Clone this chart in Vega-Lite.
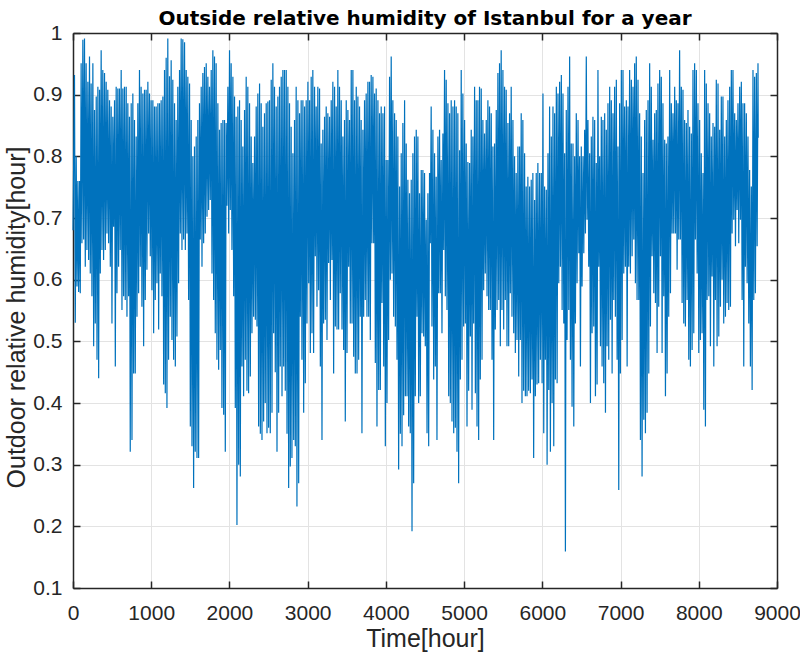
{
"$schema": "https://vega.github.io/schema/vega-lite/v6.json",
"width": 704, "height": 555,
"autosize": {"type": "none"},
"padding": {"left": 73, "top": 33, "right": 23, "bottom": 66},
"background": "white",
"title": {"text": "Outside relative humidity of Istanbul for a year", "font": "DejaVu Sans", "fontSize": 20, "fontWeight": "bold", "color": "#000000", "anchor": "middle", "baseline": "alphabetic", "offset": 10, "dy": 33},
"config": {"view": {"stroke": null}},
"data": {"values": [
{"t":0,"h":0.68},
{"t":19,"h":0.932},{"t":29,"h":0.53},{"t":41,"h":0.80},{"t":51,"h":0.589},{"t":62,"h":0.76},{"t":72,"h":0.58},{"t":83,"h":0.76},{"t":93,"h":0.578},
{"t":104,"h":0.951},{"t":114,"h":0.659},{"t":126,"h":0.989},{"t":136,"h":0.665},{"t":147,"h":0.991},{"t":157,"h":0.621},{"t":168,"h":0.951},{"t":178,"h":0.648},
{"t":190,"h":0.921},{"t":200,"h":0.632},{"t":211,"h":0.962},{"t":221,"h":0.61},{"t":232,"h":0.918},{"t":242,"h":0.573},{"t":254,"h":0.951},{"t":264,"h":0.492},
{"t":275,"h":0.875},{"t":285,"h":0.529},{"t":297,"h":0.897},{"t":307,"h":0.47},{"t":318,"h":0.913},{"t":328,"h":0.44},{"t":339,"h":0.908},{"t":349,"h":0.61},
{"t":360,"h":0.972},{"t":370,"h":0.648},{"t":381,"h":0.940},{"t":391,"h":0.632},{"t":403,"h":0.935},{"t":413,"h":0.648},{"t":424,"h":0.921},{"t":434,"h":0.675},
{"t":445,"h":0.908},{"t":455,"h":0.659},{"t":467,"h":0.891},{"t":477,"h":0.621},{"t":488,"h":0.881},{"t":498,"h":0.529},{"t":509,"h":0.864},{"t":519,"h":0.686},
{"t":531,"h":0.891},{"t":541,"h":0.459},{"t":552,"h":0.913},{"t":562,"h":0.578},{"t":573,"h":0.910},{"t":583,"h":0.621},{"t":594,"h":0.910},{"t":604,"h":0.648},
{"t":616,"h":0.940},{"t":626,"h":0.551},{"t":637,"h":0.910},{"t":647,"h":0.573},{"t":658,"h":0.913},{"t":668,"h":0.567},{"t":680,"h":0.913},{"t":690,"h":0.54},
{"t":701,"h":0.886},{"t":711,"h":0.573},{"t":722,"h":0.864},{"t":732,"h":0.321},{"t":744,"h":0.886},{"t":754,"h":0.34},{"t":765,"h":0.902},{"t":775,"h":0.448},
{"t":786,"h":0.859},{"t":796,"h":0.448},{"t":808,"h":0.832},{"t":818,"h":0.54},{"t":829,"h":0.886},{"t":839,"h":0.578},{"t":850,"h":0.940},{"t":860,"h":0.621},
{"t":871,"h":0.913},{"t":881,"h":0.556},{"t":893,"h":0.902},{"t":903,"h":0.492},{"t":914,"h":0.908},{"t":924,"h":0.567},{"t":935,"h":0.908},{"t":945,"h":0.616},
{"t":957,"h":0.921},{"t":967,"h":0.675},{"t":978,"h":0.902},{"t":988,"h":0.638},{"t":999,"h":0.891},{"t":1009,"h":0.583},{"t":1021,"h":0.891},{"t":1031,"h":0.513},
{"t":1042,"h":0.881},{"t":1052,"h":0.567},{"t":1063,"h":0.881},{"t":1073,"h":0.594},{"t":1085,"h":0.886},{"t":1095,"h":0.519},{"t":1106,"h":0.886},{"t":1116,"h":0.61},
{"t":1127,"h":0.891},{"t":1137,"h":0.573},{"t":1149,"h":0.897},{"t":1159,"h":0.43},{"t":1170,"h":0.940},{"t":1180,"h":0.416},{"t":1191,"h":0.96},{"t":1201,"h":0.392},
{"t":1212,"h":0.991},{"t":1222,"h":0.47},{"t":1234,"h":0.93},{"t":1244,"h":0.54},{"t":1255,"h":0.956},{"t":1265,"h":0.502},{"t":1276,"h":0.924},{"t":1286,"h":0.47},
{"t":1298,"h":0.886},{"t":1308,"h":0.459},{"t":1319,"h":0.859},{"t":1329,"h":0.508},{"t":1340,"h":0.913},{"t":1350,"h":0.594},{"t":1362,"h":0.940},{"t":1372,"h":0.675},
{"t":1383,"h":0.991},{"t":1393,"h":0.648},{"t":1404,"h":0.99},{"t":1414,"h":0.665},{"t":1426,"h":0.985},{"t":1436,"h":0.648},{"t":1447,"h":0.940},{"t":1457,"h":0.675},
{"t":1468,"h":0.929},{"t":1478,"h":0.567},{"t":1490,"h":0.918},{"t":1500,"h":0.362},{"t":1511,"h":0.859},{"t":1521,"h":0.33},{"t":1532,"h":0.800},{"t":1542,"h":0.262},
{"t":1553,"h":0.816},{"t":1563,"h":0.321},{"t":1575,"h":0.832},{"t":1585,"h":0.311},{"t":1596,"h":0.859},{"t":1606,"h":0.311},{"t":1617,"h":0.886},{"t":1627,"h":0.665},
{"t":1639,"h":0.913},{"t":1649,"h":0.621},{"t":1660,"h":0.935},{"t":1670,"h":0.659},{"t":1681,"h":0.945},{"t":1691,"h":0.675},{"t":1703,"h":0.951},{"t":1713,"h":0.702},
{"t":1724,"h":0.929},{"t":1734,"h":0.713},{"t":1745,"h":0.913},{"t":1755,"h":0.729},{"t":1767,"h":0.940},{"t":1777,"h":0.61},{"t":1788,"h":0.972},{"t":1798,"h":0.567},
{"t":1809,"h":0.962},{"t":1819,"h":0.513},{"t":1830,"h":0.951},{"t":1840,"h":0.47},{"t":1852,"h":0.886},{"t":1862,"h":0.454},{"t":1873,"h":0.843},{"t":1883,"h":0.486},
{"t":1894,"h":0.854},{"t":1904,"h":0.392},{"t":1916,"h":0.859},{"t":1926,"h":0.381},{"t":1937,"h":0.859},{"t":1947,"h":0.321},{"t":1958,"h":0.854},{"t":1968,"h":0.72},
{"t":1980,"h":0.913},{"t":1990,"h":0.675},{"t":2001,"h":0.972},{"t":2011,"h":0.713},{"t":2022,"h":0.951},{"t":2032,"h":0.648},{"t":2044,"h":0.929},{"t":2054,"h":0.573},
{"t":2065,"h":0.897},{"t":2075,"h":0.392},{"t":2086,"h":0.864},{"t":2096,"h":0.202},{"t":2108,"h":0.881},{"t":2118,"h":0.30},{"t":2129,"h":0.891},{"t":2139,"h":0.281},
{"t":2150,"h":0.859},{"t":2160,"h":0.459},{"t":2171,"h":0.816},{"t":2181,"h":0.411},{"t":2193,"h":0.875},{"t":2203,"h":0.47},{"t":2214,"h":0.929},{"t":2224,"h":0.42},
{"t":2235,"h":0.913},{"t":2245,"h":0.416},{"t":2257,"h":0.886},{"t":2267,"h":0.443},{"t":2278,"h":0.832},{"t":2288,"h":0.513},{"t":2299,"h":0.789},{"t":2309,"h":0.54},
{"t":2321,"h":0.832},{"t":2331,"h":0.535},{"t":2342,"h":0.881},{"t":2352,"h":0.524},{"t":2363,"h":0.902},{"t":2373,"h":0.362},{"t":2385,"h":0.918},{"t":2395,"h":0.35},
{"t":2406,"h":0.886},{"t":2416,"h":0.34},{"t":2427,"h":0.848},{"t":2437,"h":0.37},{"t":2448,"h":0.870},{"t":2458,"h":0.40},{"t":2470,"h":0.886},{"t":2480,"h":0.351},
{"t":2491,"h":0.889},{"t":2501,"h":0.36},{"t":2512,"h":0.891},{"t":2522,"h":0.351},{"t":2534,"h":0.924},{"t":2544,"h":0.384},{"t":2555,"h":0.951},{"t":2565,"h":0.513},
{"t":2576,"h":0.913},{"t":2586,"h":0.45},{"t":2598,"h":0.881},{"t":2608,"h":0.321},{"t":2619,"h":0.897},{"t":2629,"h":0.384},{"t":2640,"h":0.913},{"t":2650,"h":0.459},
{"t":2662,"h":0.929},{"t":2672,"h":0.411},{"t":2683,"h":0.940},{"t":2693,"h":0.459},{"t":2704,"h":0.940},{"t":2714,"h":0.42},{"t":2726,"h":0.940},{"t":2736,"h":0.35},
{"t":2747,"h":0.913},{"t":2757,"h":0.262},{"t":2768,"h":0.886},{"t":2778,"h":0.297},{"t":2789,"h":0.848},{"t":2799,"h":0.311},{"t":2811,"h":0.805},{"t":2821,"h":0.34},
{"t":2832,"h":0.859},{"t":2842,"h":0.33},{"t":2853,"h":0.913},{"t":2863,"h":0.232},{"t":2875,"h":0.891},{"t":2885,"h":0.27},{"t":2896,"h":0.870},{"t":2906,"h":0.54},
{"t":2917,"h":0.891},{"t":2927,"h":0.47},{"t":2939,"h":0.891},{"t":2949,"h":0.384},{"t":2960,"h":0.881},{"t":2970,"h":0.432},{"t":2981,"h":0.891},{"t":2991,"h":0.529},
{"t":3003,"h":0.921},{"t":3013,"h":0.594},{"t":3024,"h":0.891},{"t":3034,"h":0.481},{"t":3045,"h":0.929},{"t":3055,"h":0.513},{"t":3066,"h":0.940},{"t":3076,"h":0.481},
{"t":3088,"h":0.913},{"t":3098,"h":0.638},{"t":3109,"h":0.881},{"t":3119,"h":0.556},{"t":3130,"h":0.913},{"t":3140,"h":0.583},{"t":3152,"h":0.910},{"t":3162,"h":0.459},
{"t":3173,"h":0.821},{"t":3183,"h":0.34},{"t":3194,"h":0.843},{"t":3204,"h":0.529},{"t":3216,"h":0.864},{"t":3226,"h":0.535},{"t":3237,"h":0.881},{"t":3247,"h":0.502},
{"t":3258,"h":0.870},{"t":3268,"h":0.627},{"t":3280,"h":0.864},{"t":3290,"h":0.567},{"t":3301,"h":0.891},{"t":3311,"h":0.632},{"t":3322,"h":0.921},{"t":3332,"h":0.448},
{"t":3344,"h":0.913},{"t":3354,"h":0.524},{"t":3365,"h":0.881},{"t":3375,"h":0.519},{"t":3386,"h":0.940},{"t":3396,"h":0.519},{"t":3407,"h":0.913},{"t":3417,"h":0.578},
{"t":3429,"h":0.891},{"t":3439,"h":0.519},{"t":3450,"h":0.832},{"t":3460,"h":0.486},{"t":3471,"h":0.859},{"t":3481,"h":0.37},{"t":3493,"h":0.891},{"t":3503,"h":0.481},
{"t":3514,"h":0.875},{"t":3524,"h":0.621},{"t":3535,"h":0.859},{"t":3545,"h":0.529},{"t":3557,"h":0.940},{"t":3567,"h":0.529},{"t":3578,"h":0.940},{"t":3588,"h":0.475},
{"t":3599,"h":0.891},{"t":3609,"h":0.448},{"t":3621,"h":0.913},{"t":3631,"h":0.448},{"t":3642,"h":0.897},{"t":3652,"h":0.47},{"t":3663,"h":0.881},{"t":3673,"h":0.54},
{"t":3684,"h":0.859},{"t":3694,"h":0.351},{"t":3706,"h":0.843},{"t":3716,"h":0.54},{"t":3727,"h":0.891},{"t":3737,"h":0.567},{"t":3748,"h":0.902},{"t":3758,"h":0.54},
{"t":3770,"h":0.921},{"t":3780,"h":0.54},{"t":3791,"h":0.921},{"t":3801,"h":0.502},{"t":3812,"h":0.932},{"t":3822,"h":0.659},{"t":3834,"h":0.929},{"t":3844,"h":0.659},
{"t":3855,"h":0.902},{"t":3865,"h":0.465},{"t":3876,"h":0.910},{"t":3886,"h":0.362},{"t":3898,"h":0.891},{"t":3908,"h":0.421},{"t":3919,"h":0.870},{"t":3929,"h":0.421},
{"t":3940,"h":0.881},{"t":3950,"h":0.562},{"t":3962,"h":0.870},{"t":3972,"h":0.459},{"t":3983,"h":0.881},{"t":3993,"h":0.33},{"t":4004,"h":0.794},{"t":4014,"h":0.40},
{"t":4025,"h":0.794},{"t":4035,"h":0.502},{"t":4047,"h":0.929},{"t":4057,"h":0.60},{"t":4068,"h":0.962},{"t":4078,"h":0.61},{"t":4089,"h":0.891},{"t":4099,"h":0.54},
{"t":4111,"h":0.870},{"t":4121,"h":0.524},{"t":4132,"h":0.859},{"t":4142,"h":0.47},{"t":4153,"h":0.832},{"t":4163,"h":0.292},{"t":4175,"h":0.751},{"t":4185,"h":0.35},
{"t":4196,"h":0.805},{"t":4206,"h":0.33},{"t":4217,"h":0.854},{"t":4227,"h":0.38},{"t":4239,"h":0.891},{"t":4249,"h":0.411},{"t":4260,"h":0.821},{"t":4270,"h":0.411},
{"t":4281,"h":0.762},{"t":4291,"h":0.362},{"t":4302,"h":0.740},{"t":4312,"h":0.351},{"t":4324,"h":0.762},{"t":4334,"h":0.192},{"t":4345,"h":0.805},{"t":4355,"h":0.27},
{"t":4366,"h":0.832},{"t":4376,"h":0.411},{"t":4388,"h":0.843},{"t":4398,"h":0.54},{"t":4409,"h":0.832},{"t":4419,"h":0.40},{"t":4430,"h":0.740},{"t":4440,"h":0.411},
{"t":4452,"h":0.778},{"t":4462,"h":0.513},{"t":4473,"h":0.778},{"t":4483,"h":0.508},{"t":4494,"h":0.773},{"t":4504,"h":0.492},{"t":4516,"h":0.697},{"t":4526,"h":0.351},
{"t":4537,"h":0.740},{"t":4547,"h":0.33},{"t":4558,"h":0.773},{"t":4568,"h":0.659},{"t":4579,"h":0.881},{"t":4589,"h":0.524},{"t":4601,"h":0.843},{"t":4611,"h":0.438},
{"t":4622,"h":0.805},{"t":4632,"h":0.459},{"t":4643,"h":0.767},{"t":4653,"h":0.34},{"t":4665,"h":0.832},{"t":4675,"h":0.578},{"t":4686,"h":0.843},{"t":4696,"h":0.578},
{"t":4707,"h":0.794},{"t":4717,"h":0.513},{"t":4729,"h":0.837},{"t":4739,"h":0.648},{"t":4750,"h":0.940},{"t":4760,"h":0.573},{"t":4771,"h":0.924},{"t":4781,"h":0.551},
{"t":4793,"h":0.886},{"t":4803,"h":0.411},{"t":4814,"h":0.870},{"t":4824,"h":0.40},{"t":4835,"h":0.891},{"t":4845,"h":0.37},{"t":4857,"h":0.881},{"t":4867,"h":0.351},
{"t":4878,"h":0.891},{"t":4888,"h":0.36},{"t":4899,"h":0.881},{"t":4909,"h":0.321},{"t":4920,"h":0.870},{"t":4930,"h":0.27},{"t":4942,"h":0.810},{"t":4952,"h":0.438},
{"t":4963,"h":0.940},{"t":4973,"h":0.47},{"t":4984,"h":0.902},{"t":4994,"h":0.524},{"t":5006,"h":0.859},{"t":5016,"h":0.529},{"t":5027,"h":0.821},{"t":5037,"h":0.362},
{"t":5048,"h":0.791},{"t":5058,"h":0.42},{"t":5070,"h":0.789},{"t":5080,"h":0.508},{"t":5091,"h":0.843},{"t":5101,"h":0.389},{"t":5112,"h":0.832},{"t":5122,"h":0.529},
{"t":5134,"h":0.913},{"t":5144,"h":0.416},{"t":5155,"h":0.891},{"t":5165,"h":0.362},{"t":5176,"h":0.891},{"t":5186,"h":0.34},{"t":5197,"h":0.913},{"t":5207,"h":0.438},
{"t":5219,"h":0.910},{"t":5229,"h":0.47},{"t":5240,"h":0.859},{"t":5250,"h":0.583},{"t":5261,"h":0.837},{"t":5271,"h":0.61},{"t":5283,"h":0.859},{"t":5293,"h":0.573},
{"t":5304,"h":0.891},{"t":5314,"h":0.551},{"t":5325,"h":0.881},{"t":5335,"h":0.551},{"t":5347,"h":0.870},{"t":5357,"h":0.47},{"t":5368,"h":0.816},{"t":5378,"h":0.34},
{"t":5389,"h":0.821},{"t":5399,"h":0.519},{"t":5411,"h":0.875},{"t":5421,"h":0.551},{"t":5432,"h":0.935},{"t":5442,"h":0.567},{"t":5453,"h":0.951},{"t":5463,"h":0.492},
{"t":5474,"h":0.972},{"t":5484,"h":0.551},{"t":5496,"h":0.940},{"t":5506,"h":0.519},{"t":5517,"h":0.913},{"t":5527,"h":0.567},{"t":5538,"h":0.908},{"t":5548,"h":0.492},
{"t":5560,"h":0.854},{"t":5570,"h":0.492},{"t":5581,"h":0.870},{"t":5591,"h":0.578},{"t":5602,"h":0.913},{"t":5612,"h":0.54},{"t":5624,"h":0.859},{"t":5634,"h":0.513},
{"t":5645,"h":0.800},{"t":5655,"h":0.481},{"t":5666,"h":0.773},{"t":5676,"h":0.502},{"t":5688,"h":0.816},{"t":5698,"h":0.443},{"t":5709,"h":0.816},{"t":5719,"h":0.502},
{"t":5730,"h":0.870},{"t":5740,"h":0.40},{"t":5751,"h":0.859},{"t":5761,"h":0.42},{"t":5773,"h":0.805},{"t":5783,"h":0.411},{"t":5794,"h":0.751},{"t":5804,"h":0.411},
{"t":5815,"h":0.767},{"t":5825,"h":0.42},{"t":5837,"h":0.751},{"t":5847,"h":0.416},{"t":5858,"h":0.762},{"t":5868,"h":0.438},{"t":5879,"h":0.773},{"t":5889,"h":0.311},
{"t":5901,"h":0.729},{"t":5911,"h":0.411},{"t":5922,"h":0.773},{"t":5932,"h":0.43},{"t":5943,"h":0.789},{"t":5953,"h":0.432},{"t":5965,"h":0.773},{"t":5975,"h":0.47},
{"t":5987,"h":0.773},{"t":5997,"h":0.432},{"t":6008,"h":0.902},{"t":6018,"h":0.351},{"t":6029,"h":0.751},{"t":6039,"h":0.47},{"t":6051,"h":0.746},{"t":6061,"h":0.30},
{"t":6072,"h":0.805},{"t":6082,"h":0.421},{"t":6093,"h":0.881},{"t":6103,"h":0.321},{"t":6115,"h":0.832},{"t":6125,"h":0.40},{"t":6136,"h":0.881},{"t":6146,"h":0.33},
{"t":6157,"h":0.870},{"t":6167,"h":0.438},{"t":6179,"h":0.913},{"t":6189,"h":0.432},{"t":6200,"h":0.902},{"t":6210,"h":0.594},{"t":6221,"h":0.921},{"t":6231,"h":0.621},
{"t":6243,"h":0.932},{"t":6253,"h":0.551},{"t":6264,"h":0.902},{"t":6274,"h":0.529},{"t":6285,"h":0.805},{"t":6295,"h":0.159},{"t":6306,"h":0.875},{"t":6316,"h":0.502},
{"t":6328,"h":0.913},{"t":6338,"h":0.551},{"t":6349,"h":0.962},{"t":6359,"h":0.47},{"t":6370,"h":0.821},{"t":6380,"h":0.394},{"t":6392,"h":0.821},{"t":6402,"h":0.362},
{"t":6413,"h":0.800},{"t":6423,"h":0.529},{"t":6434,"h":0.870},{"t":6444,"h":0.594},{"t":6456,"h":0.859},{"t":6466,"h":0.643},{"t":6477,"h":0.800},{"t":6487,"h":0.459},
{"t":6498,"h":0.816},{"t":6508,"h":0.589},{"t":6520,"h":0.800},{"t":6530,"h":0.643},{"t":6541,"h":0.843},{"t":6551,"h":0.675},{"t":6562,"h":0.962},{"t":6572,"h":0.697},
{"t":6583,"h":0.859},{"t":6593,"h":0.621},{"t":6605,"h":0.805},{"t":6615,"h":0.40},{"t":6626,"h":0.832},{"t":6636,"h":0.513},{"t":6647,"h":0.864},{"t":6657,"h":0.524},
{"t":6669,"h":0.859},{"t":6679,"h":0.411},{"t":6690,"h":0.789},{"t":6700,"h":0.43},{"t":6711,"h":0.940},{"t":6721,"h":0.621},{"t":6733,"h":0.800},{"t":6743,"h":0.492},
{"t":6754,"h":0.864},{"t":6764,"h":0.459},{"t":6775,"h":0.859},{"t":6785,"h":0.432},{"t":6797,"h":0.870},{"t":6807,"h":0.384},{"t":6818,"h":0.843},{"t":6828,"h":0.492},
{"t":6839,"h":0.886},{"t":6849,"h":0.47},{"t":6861,"h":0.913},{"t":6871,"h":0.535},{"t":6882,"h":0.891},{"t":6892,"h":0.448},{"t":6903,"h":0.870},{"t":6913,"h":0.567},
{"t":6924,"h":0.913},{"t":6934,"h":0.54},{"t":6946,"h":0.924},{"t":6956,"h":0.47},{"t":6967,"h":0.816},{"t":6977,"h":0.259},{"t":6988,"h":0.886},{"t":6998,"h":0.448},
{"t":7010,"h":0.940},{"t":7020,"h":0.502},{"t":7031,"h":0.940},{"t":7041,"h":0.61},{"t":7052,"h":0.881},{"t":7062,"h":0.621},{"t":7074,"h":0.891},{"t":7084,"h":0.459},
{"t":7095,"h":0.881},{"t":7105,"h":0.621},{"t":7116,"h":0.940},{"t":7126,"h":0.61},{"t":7138,"h":0.924},{"t":7148,"h":0.638},{"t":7159,"h":0.913},{"t":7169,"h":0.665},
{"t":7180,"h":0.951},{"t":7190,"h":0.594},{"t":7201,"h":0.962},{"t":7211,"h":0.567},{"t":7223,"h":0.924},{"t":7233,"h":0.567},{"t":7244,"h":0.870},{"t":7254,"h":0.34},
{"t":7265,"h":0.832},{"t":7275,"h":0.281},{"t":7287,"h":0.773},{"t":7297,"h":0.373},{"t":7308,"h":0.859},{"t":7318,"h":0.351},{"t":7329,"h":0.875},{"t":7339,"h":0.384},
{"t":7351,"h":0.891},{"t":7361,"h":0.448},{"t":7372,"h":0.951},{"t":7382,"h":0.524},{"t":7393,"h":0.913},{"t":7403,"h":0.638},{"t":7415,"h":0.827},{"t":7425,"h":0.578},
{"t":7436,"h":0.870},{"t":7446,"h":0.562},{"t":7457,"h":0.875},{"t":7467,"h":0.481},{"t":7478,"h":0.918},{"t":7488,"h":0.556},{"t":7500,"h":0.940},{"t":7510,"h":0.638},
{"t":7521,"h":0.929},{"t":7531,"h":0.481},{"t":7542,"h":0.886},{"t":7552,"h":0.573},{"t":7564,"h":0.827},{"t":7574,"h":0.411},{"t":7585,"h":0.821},{"t":7595,"h":0.448},
{"t":7606,"h":0.832},{"t":7616,"h":0.54},{"t":7628,"h":0.940},{"t":7638,"h":0.578},{"t":7649,"h":0.886},{"t":7659,"h":0.675},{"t":7670,"h":0.870},{"t":7680,"h":0.675},
{"t":7692,"h":0.913},{"t":7702,"h":0.675},{"t":7713,"h":0.891},{"t":7723,"h":0.616},{"t":7734,"h":0.886},{"t":7744,"h":0.665},{"t":7755,"h":0.972},{"t":7765,"h":0.665},
{"t":7777,"h":0.913},{"t":7787,"h":0.562},{"t":7798,"h":0.908},{"t":7808,"h":0.529},{"t":7819,"h":0.859},{"t":7829,"h":0.524},{"t":7841,"h":0.854},{"t":7851,"h":0.567},
{"t":7862,"h":0.875},{"t":7872,"h":0.47},{"t":7883,"h":0.848},{"t":7893,"h":0.459},{"t":7905,"h":0.837},{"t":7915,"h":0.486},{"t":7926,"h":0.940},{"t":7936,"h":0.513},
{"t":7947,"h":0.951},{"t":7957,"h":0.665},{"t":7969,"h":0.940},{"t":7979,"h":0.61},{"t":7990,"h":0.886},{"t":8000,"h":0.481},{"t":8011,"h":0.859},{"t":8021,"h":0.502},
{"t":8032,"h":0.805},{"t":8042,"h":0.513},{"t":8054,"h":0.773},{"t":8064,"h":0.389},{"t":8075,"h":0.940},{"t":8085,"h":0.362},{"t":8096,"h":0.918},{"t":8106,"h":0.567},
{"t":8118,"h":0.886},{"t":8128,"h":0.573},{"t":8139,"h":0.870},{"t":8149,"h":0.492},{"t":8160,"h":0.832},{"t":8170,"h":0.605},{"t":8182,"h":0.854},{"t":8192,"h":0.459},
{"t":8203,"h":0.848},{"t":8213,"h":0.567},{"t":8224,"h":0.924},{"t":8234,"h":0.492},{"t":8246,"h":0.918},{"t":8256,"h":0.508},{"t":8267,"h":0.843},{"t":8277,"h":0.556},
{"t":8288,"h":0.897},{"t":8298,"h":0.60},{"t":8309,"h":0.897},{"t":8319,"h":0.529},{"t":8331,"h":0.832},{"t":8341,"h":0.54},{"t":8352,"h":0.859},{"t":8362,"h":0.562},
{"t":8373,"h":0.891},{"t":8383,"h":0.551},{"t":8395,"h":0.913},{"t":8405,"h":0.556},{"t":8416,"h":0.940},{"t":8426,"h":0.675},{"t":8437,"h":0.940},{"t":8447,"h":0.697},
{"t":8459,"h":0.870},{"t":8469,"h":0.654},{"t":8480,"h":0.859},{"t":8490,"h":0.713},{"t":8501,"h":0.886},{"t":8511,"h":0.659},{"t":8523,"h":0.913},{"t":8533,"h":0.697},
{"t":8544,"h":0.921},{"t":8554,"h":0.567},{"t":8565,"h":0.886},{"t":8575,"h":0.459},{"t":8586,"h":0.886},{"t":8596,"h":0.621},{"t":8608,"h":0.870},{"t":8618,"h":0.594},
{"t":8629,"h":0.832},{"t":8639,"h":0.529},{"t":8650,"h":0.778},{"t":8660,"h":0.459},{"t":8672,"h":0.751},{"t":8682,"h":0.421},{"t":8693,"h":0.940},{"t":8703,"h":0.567},
{"t":8714,"h":0.929},{"t":8724,"h":0.578},{"t":8736,"h":0.935},{"t":8746,"h":0.654},{"t":8757,"h":0.951},{"t":8760,"h":0.83}
]},
"layer": [
 {"mark": {"type": "line", "color": "#0072BD", "strokeWidth": 1.2},
  "encoding": {
   "x": {"field": "t", "type": "quantitative", "sort": null,
     "scale": {"domain": [0, 9000], "nice": false, "zero": false},
     "axis": {"orient": "bottom", "values": [0,1000,2000,3000,4000,5000,6000,7000,8000,9000], "format": "d",
       "grid": true, "gridColor": "#e3e3e3", "gridWidth": 1,
       "domainColor": "#262626", "domainWidth": 1.5, "tickColor": "#262626", "tickWidth": 1.5, "tickSize": -7,
       "labelFont": "Liberation Sans", "labelFontSize": 21, "labelColor": "#262626", "labelPadding": 21, "labelFlush": false, "labelOverlap": false, "labelBound": false,
       "title": "Time[hour]", "titleFont": "Liberation Sans", "titleFontSize": 25, "titleFontWeight": "normal", "titleColor": "#262626", "titleBaseline": "alphabetic", "titleY": 58}},
   "y": {"field": "h", "type": "quantitative",
     "scale": {"domain": [0.1, 1], "nice": false, "zero": false},
     "axis": {"orient": "left", "values": [0.1,0.2,0.3,0.4,0.5,0.6,0.7,0.8,0.9,1], "format": "~g",
       "grid": true, "gridColor": "#e3e3e3", "gridWidth": 1,
       "domainColor": "#262626", "domainWidth": 1.5, "tickColor": "#262626", "tickWidth": 1.5, "tickSize": -7,
       "labelFont": "Liberation Sans", "labelFontSize": 21, "labelColor": "#262626", "labelPadding": 18, "labelFlush": false, "labelOverlap": false, "labelBound": false,
       "title": "Outdoor relative humidity[hour]", "titleFont": "Liberation Sans", "titleFontSize": 25, "titleFontWeight": "normal", "titleColor": "#262626", "titleBaseline": "alphabetic", "titleX": -49, "titleY": 284}}
  }},
 {"data": {"values": [{"t": 0, "h": 0.1}]},
  "mark": {"type": "point", "opacity": 0},
  "encoding": {
   "x": {"field": "t", "type": "quantitative",
     "axis": {"orient": "top", "values": [0,1000,2000,3000,4000,5000,6000,7000,8000,9000], "labels": false, "grid": false, "title": null,
       "domainColor": "#262626", "domainWidth": 1.5, "tickColor": "#262626", "tickWidth": 1.5, "tickSize": -7}},
   "y": {"field": "h", "type": "quantitative",
     "axis": {"orient": "right", "values": [0.1,0.2,0.3,0.4,0.5,0.6,0.7,0.8,0.9,1], "labels": false, "grid": false, "title": null,
       "domainColor": "#262626", "domainWidth": 1.5, "tickColor": "#262626", "tickWidth": 1.5, "tickSize": -7}}
  }}
],
"resolve": {"axis": {"x": "independent", "y": "independent"}}
}
